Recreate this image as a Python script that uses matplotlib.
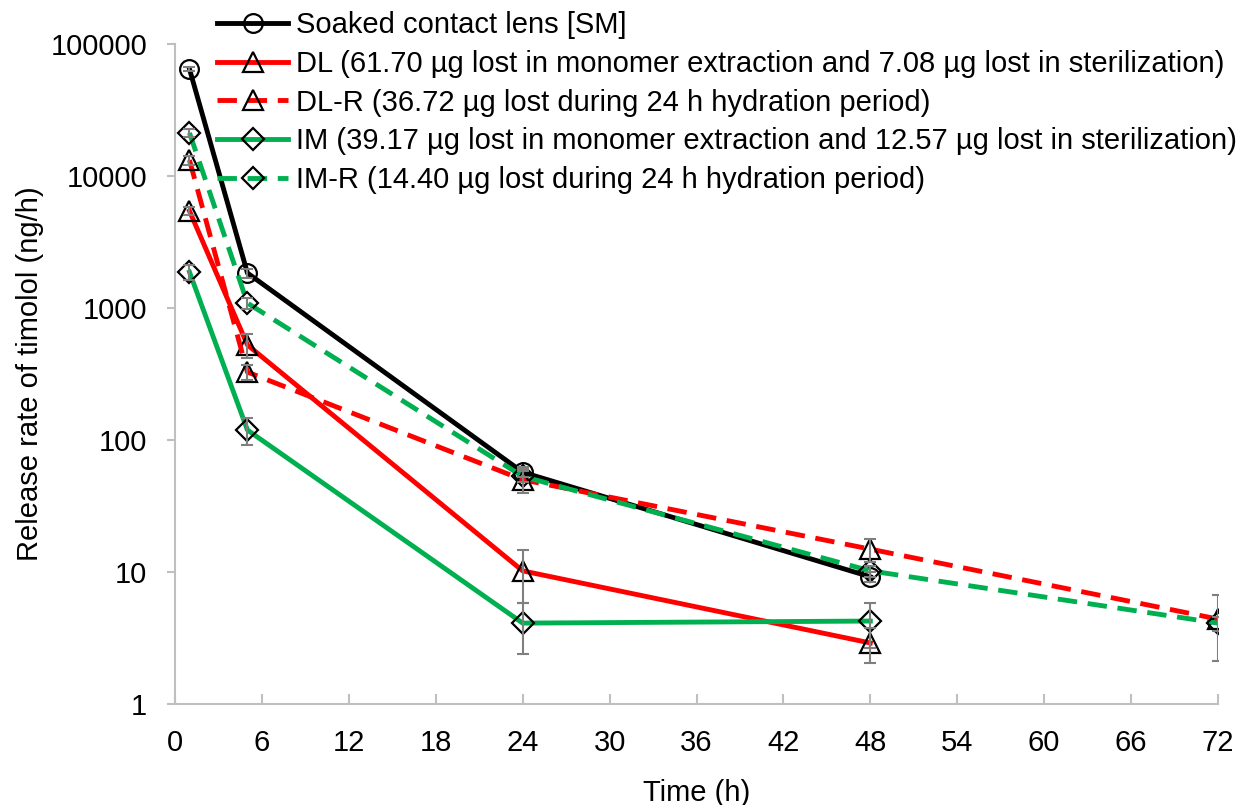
import numpy as np
import matplotlib.pyplot as plt

plt.rcParams['font.family'] = ['Liberation Sans', 'DejaVu Sans']

# release rate of timolol (ng/h)
t5 = [1, 5, 24, 48, 72]
t4 = [1, 5, 24, 48]

sm = [64600, 1840, 57, 9.2]
sm_err = [2500, 150, 5, 0.8]
dl = [5430, 525, 10.2, 2.9]
dl_err = [400, 110, 4.4, 0.85]
dlr = [13200, 327, 50, 14.9, 4.4]
dlr_err = [1000, 40, 10, 3.0, 2.3]
im = [1870, 119, 4.1, 4.25]
im_err = [250, 27, 1.7, 1.6]
imr = [21200, 1090, 53, 10.2, 4.1]
imr_err = [1500, 100, 5, 1.0, 0.5]

labels = ['Soaked contact lens [SM]',
          'DL (61.70 µg lost in monomer extraction and 7.08 µg lost in sterilization)',
          'DL-R (36.72 µg lost during 24 h hydration period)',
          'IM (39.17 µg lost in monomer extraction and 12.57 µg lost in sterilization)',
          'IM-R (14.40 µg lost during 24 h hydration period)']

red = '#FF0000'
green = '#00B050'
grey = '#BFBFBF'

fig = plt.figure(figsize=(12.45, 8.05), dpi=100)
ax = fig.add_axes([175 / 1245, 1 - 704 / 805, (1218 - 175) / 1245, (704 - 44) / 805])

series = [
    (t4, sm, sm_err, 'black', '-', 'o'),
    (t4, dl, dl_err, red, '-', '^'),
    (t5, dlr, dlr_err, red, '--', '^'),
    (t4, im, im_err, green, '-', 'D'),
    (t5, imr, imr_err, green, '--', 'D'),
]
sizes = {'o': 13.5, '^': 14, 'D': 11.5}

for (x, y, e, c, ls, m), lab in zip(series, labels):
    ax.plot(x, y, color=c, ls=ls, lw=3.5, dashes=(4, 2.2) if ls == '--' else (None, None),
            marker=m, ms=sizes[m], mfc='none', mec='black', mew=1.6, label=lab, zorder=2)
    ax.errorbar(x, y, yerr=e, fmt='none', ecolor='#7F7F7F', elinewidth=1.5,
                capsize=4.5, capthick=1.5, zorder=3)

ax.set_yscale('log')
ax.set_ylim(1, 100000)
ax.set_xlim(0, 72)
ax.set_xticks(np.arange(0, 73, 6))
ax.set_yticks([1, 10, 100, 1000, 10000, 100000])
ax.set_yticklabels(['1', '10', '100', '1000', '10000', '100000'])
ax.minorticks_off()

for s in ['top', 'right']:
    ax.spines[s].set_visible(False)
for s in ['left', 'bottom']:
    ax.spines[s].set_color(grey)
    ax.spines[s].set_linewidth(1.5)
ax.tick_params(axis='y', direction='out', length=6, width=1.5, color=grey,
               labelsize=21, pad=14)
ax.tick_params(axis='x', direction='in', length=7, width=1.5, color=grey,
               labelsize=21, pad=18)

ax.set_xlabel('Time (h)', fontsize=21, labelpad=16)
ax.set_ylabel('Release rate of timolol (ng/h)', fontsize=21, labelpad=5)

fig.legend(loc='upper left', bbox_to_anchor=(217 / 1245, 1 - 11 / 805), frameon=False,
           fontsize=21, handlelength=2.45, handletextpad=0.25, labelspacing=0.37,
           borderpad=0, borderaxespad=0)

fig.savefig('out.png', dpi=100)
